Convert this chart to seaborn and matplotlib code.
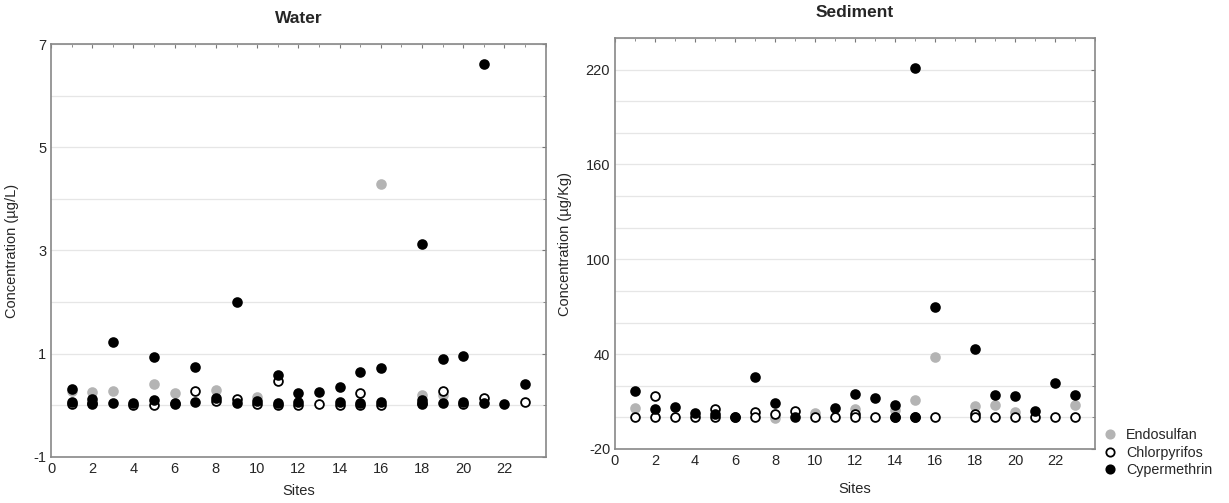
import matplotlib
matplotlib.use("Agg")
import matplotlib.pyplot as plt
import seaborn as sns
import pandas as pd
from matplotlib.ticker import MultipleLocator, FixedLocator
from matplotlib.lines import Line2D

# Water (ug/L)
water_endo_sites = [1, 2, 3, 5, 6, 8, 10, 16, 18, 19]
water_endo_vals = [0.27, 0.25, 0.27, 0.42, 0.23, 0.30, 0.16, 4.28, 0.21, 0.20]
water_chlor_sites = [1, 2, 4, 5, 6, 7, 8, 9, 10, 11, 11, 12, 13, 14, 15, 15, 16, 18, 19, 20, 21, 23]
water_chlor_vals = [0.02, 0.02, 0.0, 0.0, 0.02, 0.28, 0.08, 0.12, 0.02, 0.48, 0.0, 0.0,
                    0.02, 0.0, 0.24, 0.01, 0.0, 0.02, 0.28, 0.02, 0.15, 0.06]
water_cyp_sites = [1, 1, 2, 2, 3, 3, 4, 5, 5, 6, 7, 7, 8, 9, 9, 10, 11, 11, 12, 12, 13,
                   14, 14, 15, 15, 16, 16, 18, 18, 18, 19, 19, 20, 20, 21, 21, 22, 23]
water_cyp_vals = [0.31, 0.07, 0.12, 0.05, 1.22, 0.05, 0.04, 0.93, 0.10, 0.04, 0.75, 0.06,
                  0.14, 2.0, 0.04, 0.08, 0.58, 0.04, 0.24, 0.06, 0.25, 0.36, 0.06, 0.65,
                  0.05, 0.72, 0.07, 3.13, 0.10, 0.04, 0.90, 0.05, 0.95, 0.07, 6.62, 0.04,
                  0.03, 0.42]

# Sediment (ug/Kg)
sed_endo_sites = [1, 8, 10, 12, 14, 15, 16, 18, 19, 20, 23]
sed_endo_vals = [6.2, -0.6, 3.0, 5.2, 4.8, 10.7, 38.5, 7.0, 7.6, 3.7, 7.8]
sed_chlor_sites = [1, 2, 2, 3, 4, 5, 5, 6, 7, 7, 8, 9, 10, 11, 12, 12, 13, 14, 15, 16,
                   18, 18, 19, 20, 21, 22, 23]
sed_chlor_vals = [0, 13.6, 0, 0, 0, 5.1, 0, 0, 3.4, 0, 1.9, 4.3, 0, 0, 2.0, 0, 0, 0, 0, 0,
                  2.0, 0, 0, 0, 0, 0, 0]
sed_cyp_sites = [1, 2, 3, 4, 5, 6, 7, 8, 9, 11, 12, 13, 14, 14, 15, 15, 16, 18, 19, 20,
                 21, 22, 23]
sed_cyp_vals = [16.8, 5.5, 6.8, 2.6, 2.1, 0.5, 25.4, 8.9, 0, 6.2, 14.6, 12.4, 8.0, 0, 221,
                0, 70, 43, 14.3, 13.5, 4.3, 21.5, 14.3]

compounds = ["Endosulfan", "Chlorpyrifos", "Cypermethrin"]
styles = {
    "Endosulfan": dict(color="#b4b4b4", edgecolor="#b4b4b4"),
    "Chlorpyrifos": dict(color="white", edgecolor="black"),
    "Cypermethrin": dict(color="black", edgecolor="black"),
}


def to_frame(endo_s, endo_v, chlor_s, chlor_v, cyp_s, cyp_v):
    parts = []
    for name, s, v in zip(compounds, [endo_s, chlor_s, cyp_s], [endo_v, chlor_v, cyp_v]):
        parts.append(pd.DataFrame({"site": s, "value": v, "compound": name}))
    return pd.concat(parts, ignore_index=True)


water = to_frame(water_endo_sites, water_endo_vals, water_chlor_sites, water_chlor_vals,
                 water_cyp_sites, water_cyp_vals)
sediment = to_frame(sed_endo_sites, sed_endo_vals, sed_chlor_sites, sed_chlor_vals,
                    sed_cyp_sites, sed_cyp_vals)

sns.set_style("white")
plt.rcParams["font.family"] = ["Liberation Sans", "DejaVu Sans"]
plt.rcParams["axes.unicode_minus"] = False

fig = plt.figure(figsize=(12.29, 5.03), dpi=100)
ax1 = fig.add_axes([0.0415, 0.0915, 0.4025, 0.821])
ax2 = fig.add_axes([0.5004, 0.1074, 0.3906, 0.817])


def draw(ax, df, title, ylabel, ylim, major, minor, xpad):
    for name in compounds:
        sub = df[df["compound"] == name]
        sns.scatterplot(data=sub, x="site", y="value", ax=ax, s=40, linewidth=1.3,
                        **styles[name], zorder=3)
    ax.set_xlim(0, 24)
    ax.set_ylim(*ylim)
    ax.xaxis.set_major_locator(FixedLocator(range(0, 23, 2)))
    ax.xaxis.set_minor_locator(MultipleLocator(1))
    ax.yaxis.set_major_locator(FixedLocator(major))
    ax.yaxis.set_minor_locator(MultipleLocator(minor))
    ax.grid(which="both", axis="y", color="#e6e6e6", linewidth=0.9, linestyle="-")
    ax.set_axisbelow(True)
    ax.tick_params(which="both", direction="in", top=True, right=True, length=3,
                   color="#777777", labelsize=10.5)
    ax.tick_params(which="minor", length=2)
    for sp in ax.spines.values():
        sp.set_color("#888888")
        sp.set_linewidth(1.2)
    ax.set_title(title, fontsize=12.5, fontweight="bold", pad=15)
    ax.set_xlabel("Sites", fontsize=10.5, labelpad=xpad)
    ax.set_ylabel(ylabel, fontsize=10.5, labelpad=10)


draw(ax1, water, "Water", "Concentration (µg/L)", (-1, 7), [-1, 1, 3, 5, 7], 1, 6)
draw(ax2, sediment, "Sediment", "Concentration (µg/Kg)", (-20, 240),
     [-20, 40, 100, 160, 220], 20, 10)

handles = [Line2D([], [], marker="o", linestyle="", markersize=6, markeredgewidth=1.3,
                  markerfacecolor=styles[n]["color"], markeredgecolor=styles[n]["edgecolor"])
           for n in compounds]
fig.legend(handles, compounds, loc="center left", bbox_to_anchor=(0.887, 0.1),
           frameon=False, fontsize=10.3, handletextpad=0.6, labelspacing=0.25,
           handlelength=1.0)

fig.savefig("out.png", dpi=100)
